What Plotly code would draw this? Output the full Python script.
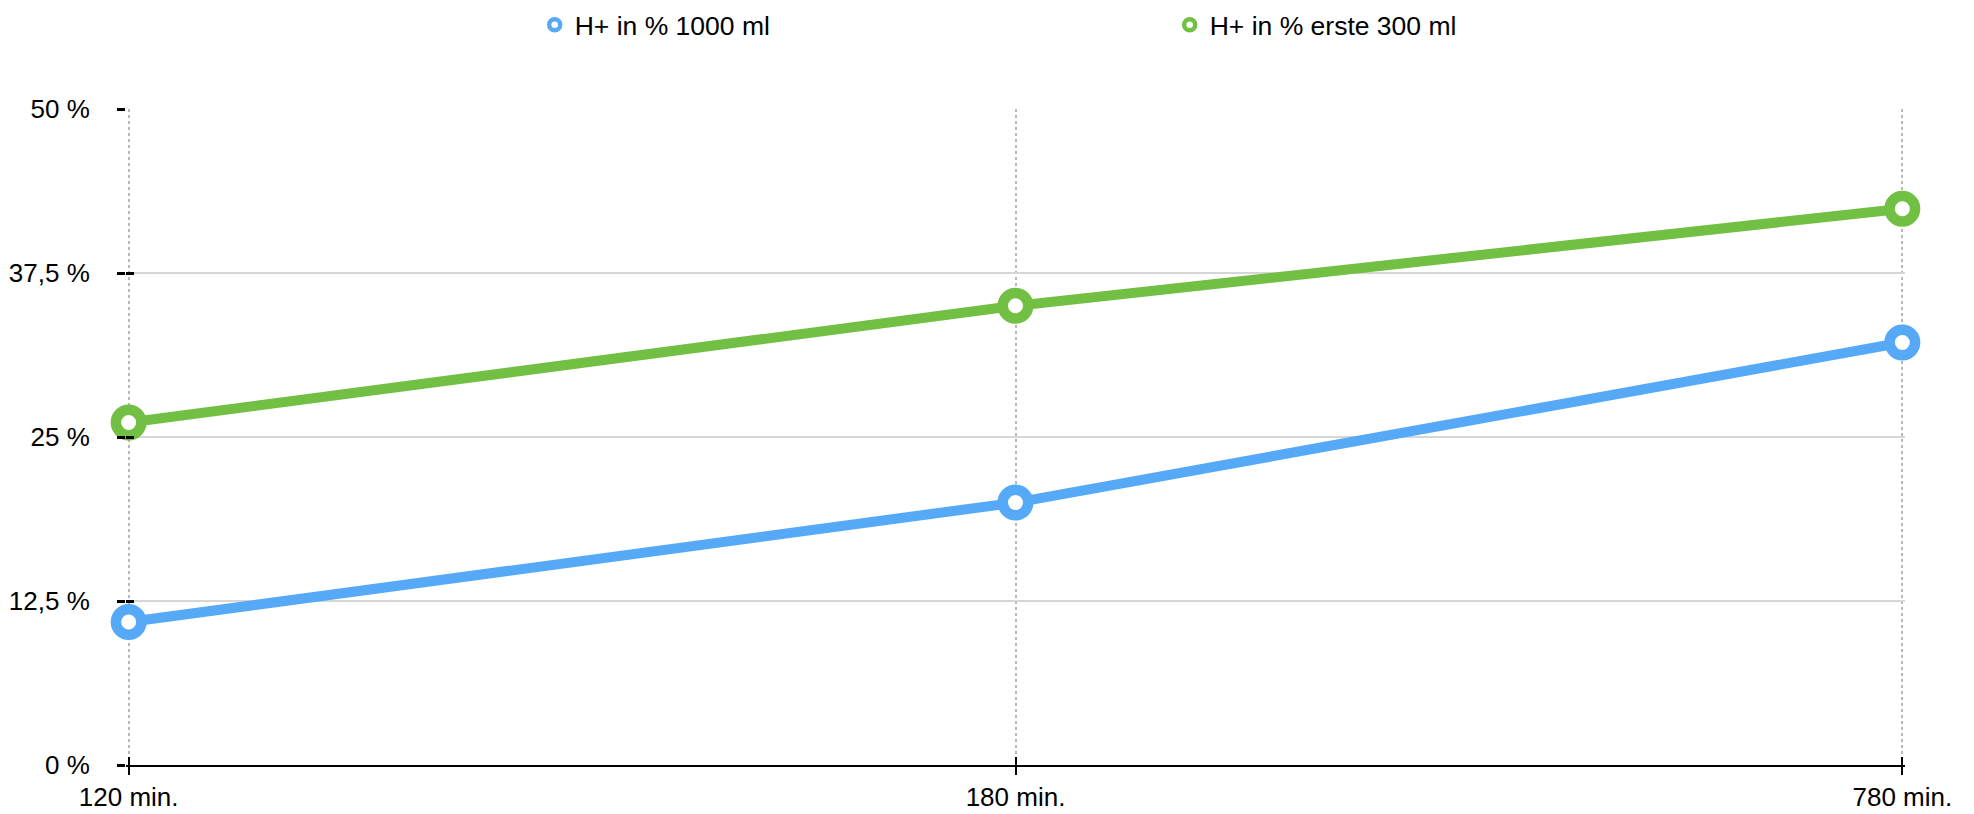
import plotly.graph_objects as go

categories = ["120 min.", "180 min.", "780 min."]
h_1000 = [10.9, 20.0, 32.2]
h_erste300 = [26.1, 35.0, 42.4]
series_names = ["H+ in % 1000 ml", "H+ in % erste 300 ml"]
y_tickvals = [0, 12.5, 25, 37.5, 50]
y_ticktext = ["0 %", "12,5 %", "25 %", "37,5 %", "50 %"]

BLUE = "#55a9f6"
GREEN = "#71bf43"
FONT = "Liberation Sans, Arial, Helvetica, sans-serif"
XR = [-0.003, 2.003]

fig = go.Figure()
for name, vals, col in [(series_names[0], h_1000, BLUE), (series_names[1], h_erste300, GREEN)]:
    fig.add_trace(go.Scatter(
        x=categories, y=vals, mode="lines+markers", name=name, showlegend=False,
        line=dict(color=col, width=10),
        marker=dict(symbol="circle", size=25.5, color="white", line=dict(color=col, width=10.5)),
        cliponaxis=False, hoverinfo="skip",
    ))
for name, col in [(series_names[0], BLUE), (series_names[1], GREEN)]:
    fig.add_trace(go.Scatter(
        x=[None], y=[None], mode="markers", name=name, showlegend=True,
        marker=dict(symbol="circle", size=11, color="white", line=dict(color=col, width=4.5)),
    ))
# helper trace so the overlaid tick-only axes are drawn
fig.add_trace(go.Scatter(x=[None], y=[None], xaxis="x2", yaxis="y2", mode="markers",
                         showlegend=False, hoverinfo="skip"))

fig.update_layout(
    width=1966, height=806,
    margin=dict(l=118, r=69, t=101, b=49, autoexpand=False),
    paper_bgcolor="white", plot_bgcolor="white",
    font=dict(family=FONT, size=26, color="black"),
    showlegend=True,
    legend=dict(
        orientation="h", xref="container", yref="container",
        x=0.2679, xanchor="left", y=0.979, yanchor="middle",
        font=dict(family=FONT, size=26.5, color="black"),
        entrywidth=590, entrywidthmode="pixels", itemclick=False,
    ),
    xaxis=dict(
        type="category", categoryorder="array", categoryarray=categories,
        range=XR, showgrid=True, gridcolor="#b8b8b8", gridwidth=2, griddash="dot",
        showline=True, linecolor="black", linewidth=2, automargin=False,
        ticks="outside", ticklen=8, tickwidth=2, tickcolor="black",
        tickfont=dict(size=26, color="black"), zeroline=False, fixedrange=True,
    ),
    xaxis2=dict(
        overlaying="x", anchor="y", side="bottom", range=XR, automargin=False,
        tickvals=[0, 1, 2], showticklabels=False, showgrid=False, showline=False,
        ticks="inside", ticklen=8, tickwidth=2, tickcolor="black", zeroline=False,
    ),
    yaxis=dict(
        range=[0, 50], tickvals=y_tickvals, ticktext=y_ticktext,
        showgrid=True, gridcolor="#d6d6d6", gridwidth=1.5, automargin=False,
        showline=False, zeroline=False,
        ticks="outside", ticklen=8, tickwidth=3, tickcolor="black",
        tickfont=dict(size=26, color="black"), ticklabelstandoff=22, fixedrange=True,
    ),
    yaxis2=dict(
        overlaying="y", anchor="x", side="left", range=[0, 50], automargin=False,
        tickvals=y_tickvals, showticklabels=False, showgrid=False, showline=False,
        ticks="inside", ticklen=8, tickwidth=3, tickcolor="black", zeroline=False,
    ),
)

fig.write_html("out.html")
